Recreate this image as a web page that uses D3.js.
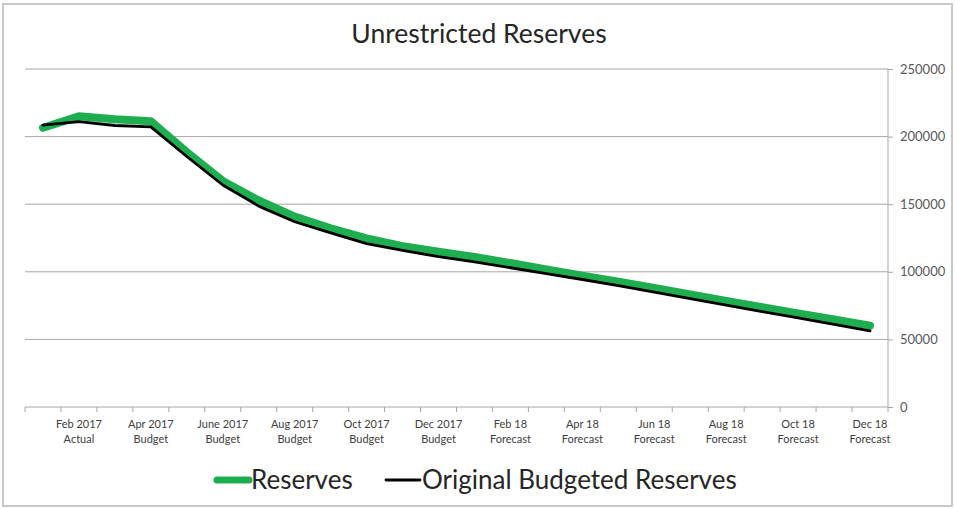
<!DOCTYPE html>
<html>
<head>
<meta charset="utf-8">
<script src="https://cdn.jsdelivr.net/npm/d3@7"></script>
<style>
  html, body { margin: 0; padding: 0; background: #fff; }
  svg { display: block; }
  text { font-family: Lato, "Open Sans", sans-serif; }
</style>
</head>
<body>
<svg id="chart" width="955" height="509"></svg>
<script>
const months = ["Jan 2017","Feb 2017","Mar 2017","Apr 2017","May 2017","June 2017","July 2017","Aug 2017","Sep 2017","Oct 2017","Nov 2017","Dec 2017",
                "Jan 18","Feb 18","Mar 18","Apr 18","May 18","Jun 18","Jul 18","Aug 18","Sep 18","Oct 18","Nov 18","Dec 18"];
const periodTypes = ["Actual","Actual","Budget","Budget","Budget","Budget","Budget","Budget","Budget","Budget","Budget","Budget",
                "Forecast","Forecast","Forecast","Forecast","Forecast","Forecast","Forecast","Forecast","Forecast","Forecast","Forecast","Forecast"];
const reserves = [206500, 215000, 212800, 211400, 188500, 167200, 152800, 140800, 132200, 124700, 119000, 114800,
                  111000, 106500, 101800, 97200, 92600, 88000, 83200, 78400, 73800, 69200, 64700, 60200];
const originalBudgeted = [208500, 211000, 208200, 207200, 185300, 164200, 148600, 137000, 128800, 120900, 115800, 111200,
                  107300, 103000, 98600, 94300, 89700, 85000, 80200, 75300, 70600, 66000, 61200, 56300];
const yTicks = [0, 50000, 100000, 150000, 200000, 250000];
const seriesNames = ["Reserves", "Original Budgeted Reserves"];
const seriesColors = ["#1fae4f", "#000000"];

const svg = d3.select("#chart");
const plot = { left: 25, right: 888, top: 69, bottom: 407 };

// frame
svg.append("rect").attr("x", 3).attr("y", 4).attr("width", 949).attr("height", 502)
  .attr("fill", "#fff").attr("stroke", "#c8c8c8").attr("stroke-width", 2);

const cats = months.map((m, i) => m + " " + periodTypes[i]);
const x = d3.scaleBand().domain(cats).range([plot.left, plot.right]).padding(0);
const y = d3.scaleLinear().domain([0, 250000]).range([plot.bottom, plot.top]);

// gridlines
svg.append("g").selectAll("line").data(yTicks.filter(d => d > 0)).join("line")
  .attr("x1", plot.left).attr("x2", plot.right)
  .attr("y1", d => y(d)).attr("y2", d => y(d))
  .attr("stroke", "#a6a6a6").attr("stroke-width", 1);

// right axis
const yAxis = d3.axisRight(y).tickValues(yTicks).tickSize(5).tickPadding(7).tickFormat(d3.format("d"));
const gy = svg.append("g").attr("transform", `translate(${plot.right},0)`).call(yAxis);
gy.select(".domain").attr("stroke", "#a6a6a6").attr("d", `M0,${plot.top}V${plot.bottom}`);
gy.selectAll(".tick line").attr("stroke", "#a6a6a6");
gy.selectAll(".tick text").attr("fill", "#595959").style("font-size", "13px").style("font-family", "Lato, sans-serif");

// bottom axis
const xAxis = d3.axisBottom(x).tickSize(0).tickPadding(0).tickFormat("");
const gx = svg.append("g").attr("transform", `translate(0,${plot.bottom})`).call(xAxis);
gx.select(".domain").attr("stroke", "#a6a6a6").attr("d", `M${plot.left},0H${plot.right}`);
const boundaries = cats.map(c => x(c)).concat([x(cats[cats.length - 1]) + x.bandwidth()]);
gx.append("g").selectAll("line").data(boundaries).join("line")
  .attr("x1", d => d).attr("x2", d => d).attr("y1", 0).attr("y2", 5)
  .attr("stroke", "#a6a6a6");
gx.selectAll(".tick").each(function(d, i) {
  const t = d3.select(this).select("text");
  t.text(null);
  if (i % 2 === 1) {
    t.attr("fill", "#404040").style("font-size", "11px").style("font-family", "Lato, sans-serif")
     .attr("y", 0).attr("dy", null);
    t.append("tspan").attr("x", 0).attr("y", 21).text(months[i]);
    t.append("tspan").attr("x", 0).attr("y", 36).text(periodTypes[i]);
  }
});

// lines
const seriesData = [reserves, originalBudgeted];
const line = d3.line().x((d, i) => x(cats[i]) + x.bandwidth() / 2).y(d => y(d));
const widths = [8, 2.8];
seriesData.forEach((s, k) => {
  svg.append("path").datum(s).attr("d", line)
    .attr("fill", "none").attr("stroke", seriesColors[k]).attr("stroke-width", widths[k])
    .attr("stroke-linejoin", "round").attr("stroke-linecap", "round");
});

// title
svg.append("text").attr("x", 479).attr("y", 43).attr("text-anchor", "middle")
  .attr("fill", "#262626").style("font-size", "26.5px").text("Unrestricted Reserves");

// legend
const legend = svg.append("g");
const legendItems = [
  { name: seriesNames[0], color: seriesColors[0], w: 7, x0: 217, x1: 249, tx: 251 },
  { name: seriesNames[1], color: seriesColors[1], w: 2.8, x0: 386, x1: 420, tx: 422 }
];
legendItems.forEach(it => {
  legend.append("line").attr("x1", it.x0).attr("x2", it.x1).attr("y1", 480).attr("y2", 480)
    .attr("stroke", it.color).attr("stroke-width", it.w).attr("stroke-linecap", "round");
  legend.append("text").attr("x", it.tx).attr("y", 489).attr("fill", "#262626")
    .style("font-size", "26px").text(it.name);
});
</script>
</body>
</html>
